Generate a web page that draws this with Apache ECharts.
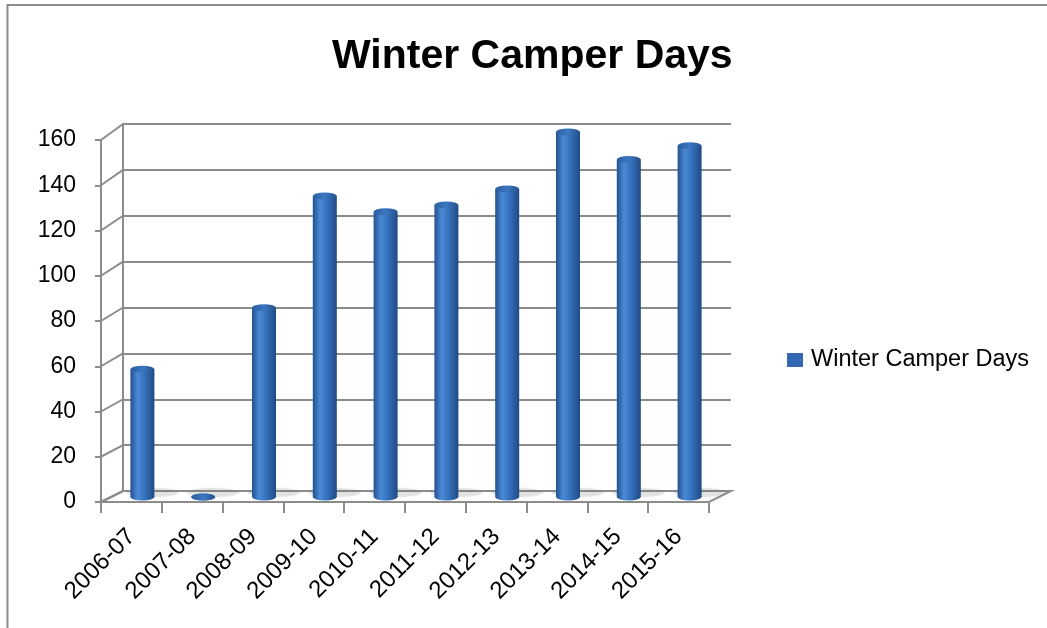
<!DOCTYPE html>
<html>
<head>
<meta charset="utf-8">
<title>Winter Camper Days</title>
<script src="https://cdn.jsdelivr.net/npm/echarts@6/dist/echarts.min.js"></script>
<style>
  html, body { margin: 0; padding: 0; background: #fff; }
  #chart { width: 1047px; height: 628px; }
</style>
</head>
<body>
<div id="chart"></div>
<script>
// data
const seasons = ['2006-07', '2007-08', '2008-09', '2009-10', '2010-11', '2011-12', '2012-13', '2013-14', '2014-15', '2015-16'];
const camperDays = [56, 0, 83, 132, 125, 128, 135, 160, 148, 154];
const yMin = 0;
const yMax = 160;
const yStep = 20;

const FONT = '"Liberation Sans", Arial, sans-serif';
const GRID_GREY = '#8c8c8c';

// the fake 3d: back wall, front edge, and the bars half way between
const back = { left: 123, right: 316, top: 124, bottom: 137 };
const front = { left: 101, right: 338, top: 140, bottom: 126 };
const mid = { left: 112, right: 327, top: 132, bottom: 131 };

const chart = echarts.init(document.getElementById('chart'));

const barColor = new echarts.graphic.LinearGradient(0, 0, 1, 0, [
  { offset: 0, color: '#24518f' },
  { offset: 0.3, color: '#4a8ad6' },
  { offset: 0.6, color: '#3470bb' },
  { offset: 1, color: '#1f4a84' }
]);
const capColor = new echarts.graphic.LinearGradient(0, 0, 1, 0, [
  { offset: 0, color: '#2a5c9c' },
  { offset: 0.5, color: '#3b78c2' },
  { offset: 1, color: '#24508c' }
]);

const hiddenCat = (gridIndex) => ({
  type: 'category', gridIndex, data: seasons, show: false
});

chart.setOption({
  animation: false,
  backgroundColor: '#fff',
  title: {
    text: 'Winter Camper Days',
    left: 332,
    top: 36,
    padding: 0,
    textStyle: { fontFamily: FONT, fontSize: 41, fontWeight: 'bold', color: '#000' }
  },
  legend: {
    data: ['Winter Camper Days'],
    left: 787,
    top: 348,
    padding: 0,
    orient: 'vertical',
    icon: 'rect',
    itemWidth: 16,
    itemHeight: 14,
    itemGap: 8,
    itemStyle: { color: '#3368b0' },
    textStyle: { fontFamily: FONT, fontSize: 23.5, color: '#000', padding: [0, 0, 0, 3] }
  },
  grid: [
    Object.assign({}, back),
    Object.assign({}, front),
    Object.assign({}, mid)
  ],
  xAxis: [
    hiddenCat(0),
    {
      type: 'category',
      gridIndex: 1,
      data: seasons,
      axisLine: { show: true, lineStyle: { color: GRID_GREY, width: 2 } },
      axisTick: { show: true, length: 11, lineStyle: { color: GRID_GREY, width: 2 } },
      axisLabel: {
        rotate: 45,
        margin: 31,
        interval: 0,
        fontFamily: FONT,
        fontSize: 24,
        color: '#000'
      },
      splitLine: { show: false }
    },
    hiddenCat(2)
  ],
  yAxis: [
    {
      type: 'value', gridIndex: 0, min: yMin, max: yMax, interval: yStep,
      axisLine: { show: true, lineStyle: { color: GRID_GREY, width: 2 } },
      axisTick: { show: false },
      axisLabel: { show: false },
      splitLine: { show: true, lineStyle: { color: GRID_GREY, width: 2 } }
    },
    {
      type: 'value', gridIndex: 1, min: yMin, max: yMax, interval: yStep,
      axisLine: { show: true, lineStyle: { color: GRID_GREY, width: 2 } },
      axisTick: { show: true, length: 6, lineStyle: { color: GRID_GREY, width: 2 } },
      axisLabel: { margin: 25, fontFamily: FONT, fontSize: 23, color: '#000' },
      splitLine: { show: false }
    },
    {
      type: 'value', gridIndex: 2, min: yMin, max: yMax, interval: yStep, show: false,
      splitLine: { show: false }
    }
  ],
  series: [
    {
      // soft shadow on the floor
      name: 'floorShadow',
      type: 'pictorialBar',
      xAxisIndex: 2, yAxisIndex: 2,
      data: camperDays.map(() => 0),
      symbol: 'circle',
      symbolSize: [52, 9],
      symbolPosition: 'start',
      symbolOffset: [10, '0%'],
      itemStyle: { color: 'rgba(120,120,120,0.18)', shadowBlur: 6, shadowColor: 'rgba(0,0,0,0.2)' },
      z: 1,
      silent: true
    },
    {
      name: 'Winter Camper Days',
      type: 'bar',
      xAxisIndex: 2, yAxisIndex: 2,
      data: camperDays,
      barWidth: 24,
      itemStyle: { color: barColor },
      z: 3
    },
    {
      name: 'base',
      type: 'pictorialBar',
      xAxisIndex: 2, yAxisIndex: 2,
      data: camperDays,
      symbol: 'circle',
      symbolSize: [24, 7],
      symbolPosition: 'start',
      symbolOffset: [0, '50%'],
      itemStyle: { color: barColor },
      z: 2,
      silent: true
    },
    {
      name: 'cap',
      type: 'pictorialBar',
      xAxisIndex: 2, yAxisIndex: 2,
      data: camperDays,
      symbol: 'circle',
      symbolSize: [24, 7],
      symbolPosition: 'end',
      symbolOffset: [0, '-50%'],
      itemStyle: { color: capColor },
      z: 4,
      silent: true
    }
  ]
});

// floor, side diagonals and the outer frame, placed from the grids and y scales
const W = chart.getWidth();
const H = chart.getHeight();
const fL = front.left, fR = W - front.right, fB = H - front.bottom;
const bL = back.left, bR = W - back.right, bB = H - back.bottom;

const deco = [];
deco.push({
  type: 'polygon',
  shape: { points: [[fL, fB], [fR, fB], [bR, bB], [bL, bB]] },
  style: { fill: '#ffffff', stroke: GRID_GREY, lineWidth: 2 },
  z: 0
});
for (let v = yMin; v <= yMax; v += yStep) {
  const yf = chart.convertToPixel({ yAxisIndex: 1 }, v);
  const yb = chart.convertToPixel({ yAxisIndex: 0 }, v);
  deco.push({
    type: 'line',
    shape: { x1: fL, y1: yf, x2: bL, y2: yb },
    style: { stroke: GRID_GREY, lineWidth: 2 },
    z: 1
  });
}
deco.push({
  type: 'rect',
  shape: { x: 7.5, y: 5, width: W + 20, height: H + 20 },
  style: { fill: 'none', stroke: '#8a8a8a', lineWidth: 2 },
  z: 0
});
chart.setOption({ graphic: { elements: deco } });
</script>
</body>
</html>
